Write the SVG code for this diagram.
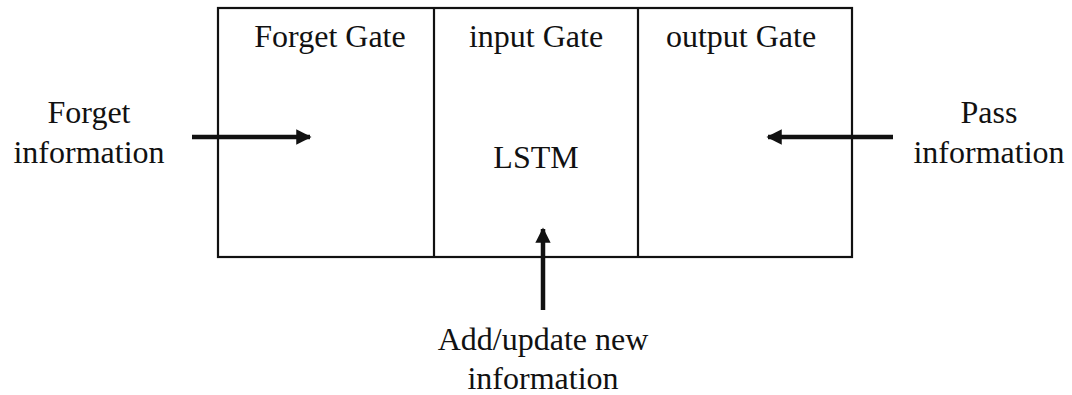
<svg xmlns="http://www.w3.org/2000/svg" width="1072" height="395" viewBox="0 0 1072 395">
<style>
text{font-family:"Liberation Serif","Times New Roman",serif;font-size:32px;fill:#111;text-anchor:middle}
.box{fill:none;stroke:#111;stroke-width:2.2}
.arr{stroke:#111;stroke-width:4.5;fill:none}
</style>
<defs>
<marker id="ah" viewBox="0 0 10 10" refX="9" refY="5" markerWidth="3.6" markerHeight="3.4" orient="auto" markerUnits="strokeWidth">
<path d="M0,0 L10,5 L0,10 z" fill="#111"/>
</marker>
</defs>
<rect width="1072" height="395" fill="#fff"/>
<g id="lstm">
<rect class="box" x="218" y="8" width="634" height="249"/>
<line class="box" x1="434" y1="8" x2="434" y2="257"/>
<line class="box" x1="638" y1="8" x2="638" y2="257"/>
<text x="536" y="168">LSTM</text>
</g>
<g id="forget-gate"><text x="330" y="47">Forget Gate</text></g>
<g id="input-gate"><text x="536" y="47">input Gate</text></g>
<g id="output-gate"><text x="741" y="47">output Gate</text></g>
<g id="forget-info"><text x="89" y="123">Forget</text><text x="89" y="163">information</text></g>
<g id="pass-info"><text x="989" y="123">Pass</text><text x="989" y="163">information</text></g>
<g id="add-info"><text x="543" y="350">Add/update new</text><text x="543" y="389">information</text></g>
<g id="connectors">
<line class="arr" x1="192" y1="137" x2="310" y2="137" marker-end="url(#ah)"/>
<line class="arr" x1="893" y1="137" x2="768" y2="137" marker-end="url(#ah)"/>
<line class="arr" x1="543" y1="310" x2="543" y2="229" marker-end="url(#ah)"/>
</g>
</svg>
